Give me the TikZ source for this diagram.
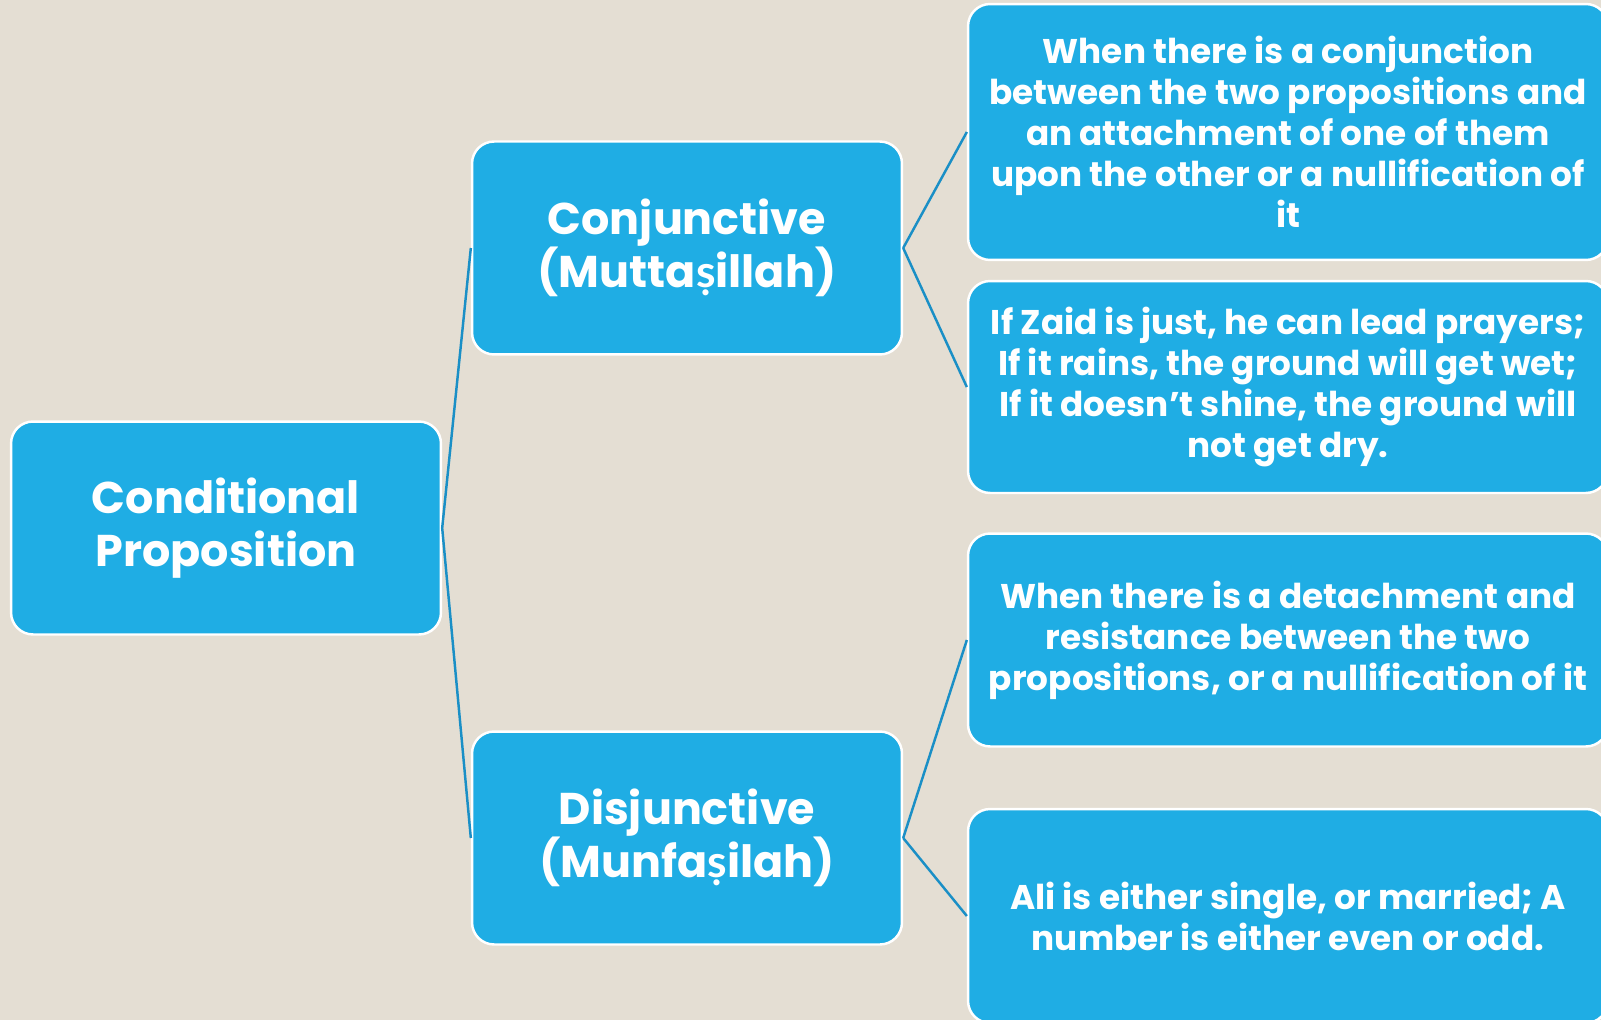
\documentclass[tikz,border=0pt]{standalone}
\usepackage{fontspec}
\setmainfont{Poppins}
\newfontfamily\dotfont{Lato}
\newcommand{\sdot}{{\dotfont ṣ}}
\definecolor{bgbeige}{HTML}{E4DED3}
\definecolor{boxblue}{HTML}{1FADE4}
\definecolor{linkblue}{HTML}{1A8FC6}
\tikzset{
  box/.style={rectangle, rounded corners=0.44cm, draw=white, line width=1.4pt,
    fill=boxblue, text=white, align=center, inner sep=0pt, font=\bfseries},
  bigbox/.style={box, minimum width=8.6cm, minimum height=4.26cm,
    font=\bfseries\fontsize{25.3}{30}\selectfont},
  textbox/.style={box, minimum width=12.8cm,
    font=\bfseries\fontsize{19.5}{23.3}\selectfont},
  link/.style={draw=linkblue, line width=1.4pt}
}
\begin{document}
\begin{tikzpicture}[x=0.02cm,y=-0.02cm]
      \useasboundingbox (0,0) rectangle (1601,1020);
      \fill[bgbeige] (0,0) rectangle (1601,1020);
      \clip (0,0) rectangle (1601,1020);
      % tree of boxes
      \node[bigbox] (root) at (226,528) {Conditional\\Proposition};
      \node[bigbox] (conj) at (687,248) {Conjunctive\\(Mutta\sdot illah)};
      \node[bigbox] (disj) at (687,838) {Disjunctive\\(Munfa\sdot ilah)};
      \node[textbox, minimum height=5.12cm] (conjdef) at (1288,132)
        {When there is a conjunction\\between the two propositions and\\an attachment of one of them\\upon the other or a nullification of\\it};
      \node[textbox, minimum height=4.24cm] (conjex) at (1288,387)
        {If Zaid is just, he can lead prayers;\\If it rains, the ground will get wet;\\If it doesn’t shine, the ground will\\not get dry.};
      \node[textbox, minimum height=4.26cm] (disjdef) at (1288,640)
        {When there is a detachment and\\resistance between the two\\propositions, or a nullification of it};
      \node[textbox, minimum height=4.28cm] (disjex) at (1288,916)
        {Ali is either single, or married; A\\number is either even or odd.};
      % connectors
      \draw[link] (root.east) -- (conj.west);
      \draw[link] (root.east) -- (disj.west);
      \draw[link] (conj.east) -- (conjdef.west);
      \draw[link] (conj.east) -- (conjex.west);
      \draw[link] (disj.east) -- (disjdef.west);
      \draw[link] (disj.east) -- (disjex.west);
    \end{tikzpicture}
\end{document}
